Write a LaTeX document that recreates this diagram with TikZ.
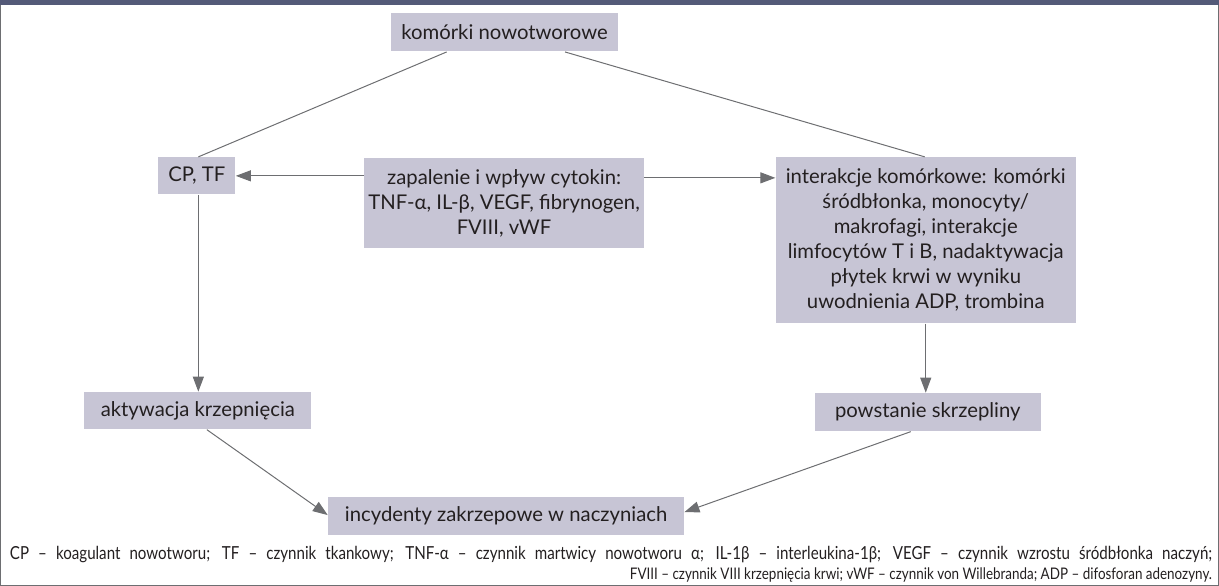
\documentclass[tikz,border=0pt]{standalone}
\usepackage{fontspec}
\setmainfont{Lato}
\newfontfamily\notefont[FakeStretch=0.84]{Lato}
\usepackage{tikz}
\usepackage{xcolor}
\usetikzlibrary{shapes, positioning, arrows.meta}

\definecolor{boxgray}{RGB}{199,197,213}
\definecolor{linegray}{RGB}{109,110,113}
\definecolor{txtgray}{RGB}{35,31,32}
\definecolor{bargray}{RGB}{84,90,120}

\tikzset{
  box/.style={rectangle, fill=boxgray, text=txtgray, inner sep=0pt, align=center,
    font=\fontsize{20.3}{25}\selectfont},
  note/.style={anchor=east, text=txtgray, inner sep=0pt, font=\notefont\fontsize{16}{20}\selectfont},
}

\begin{document}
\begin{tikzpicture}[x=1pt, y=-1pt, >={Triangle[length=15pt, width=11pt]},
    every path/.style={draw=linegray, line width=1pt}]
        \useasboundingbox (0,0) rectangle (1219,585);
        \fill[bargray] (0,0) rectangle (1219,4);

        \node[box, minimum width=227pt, minimum height=38pt] (cells) at (504.5, 32) {komórki nowotworowe};
        \node[box, minimum width=77pt, minimum height=37pt] (cptf) at (196.5, 175.5) {CP, TF};
        \node[box, minimum width=280pt, minimum height=90pt] (inflam) at (504, 203) {zapalenie i wpływ cytokin:\\TNF-α, IL-β, VEGF, fibrynogen,\\FVIII, vWF};
        \node[box, minimum width=300pt, minimum height=166pt] (inter) at (926, 240) {interakcje komórkowe: komórki\\śródbłonka, monocyty/\\makrofagi, interakcje\\limfocytów T i B, nadaktywacja\\płytek krwi w wyniku\\uwodnienia ADP, trombina};
        \node[box, minimum width=227pt, minimum height=37pt] (activ) at (197.5, 410.5) {aktywacja krzepnięcia};
        \node[box, minimum width=226pt, minimum height=38pt] (clot) at (928, 412) {powstanie skrzepliny};
        \node[box, minimum width=356pt, minimum height=38pt] (events) at (506, 516) {incydenty zakrzepowe w naczyniach};

        \draw ([xshift=-58pt]cells.south) -- ([xshift=1.5pt]cptf.north);
        \draw ([xshift=60.5pt]cells.south) -- ([xshift=-1pt]inter.north);
        \draw[->] (inflam.west |- cptf.east) -- (cptf.east);
        \draw[->] ([yshift=-2pt]inflam.east |- cptf.east) -- ([yshift=-2pt]inter.west |- cptf.east);
        \draw[->] ([xshift=1.5pt]cptf.south) -- ([xshift=0.5pt]activ.north);
        \draw[->] (inter.south) -- ([xshift=-2pt]clot.north);
        \draw[->] ([xshift=9pt]activ.south) -- ([yshift=1pt]events.west);
        \draw[->] ([xshift=-17pt]clot.south) -- ([yshift=4pt]events.east);

        \node[note, font=\notefont\fontsize{18}{20}\selectfont] (legend1) at (1213, 554) {\makebox[1203pt][s]{CP – koagulant nowotworu; TF – czynnik tkankowy; TNF-α – czynnik martwicy nowotworu α; IL-1β – interleukina-1β; VEGF – czynnik wzrostu śródbłonka naczyń;}};
        \node[note] (legend2) at (1213, 575) {FVIII – czynnik VIII krzepnięcia krwi; vWF – czynnik von Willebranda; ADP – difosforan adenozyny.};
    \end{tikzpicture}
\end{document}
